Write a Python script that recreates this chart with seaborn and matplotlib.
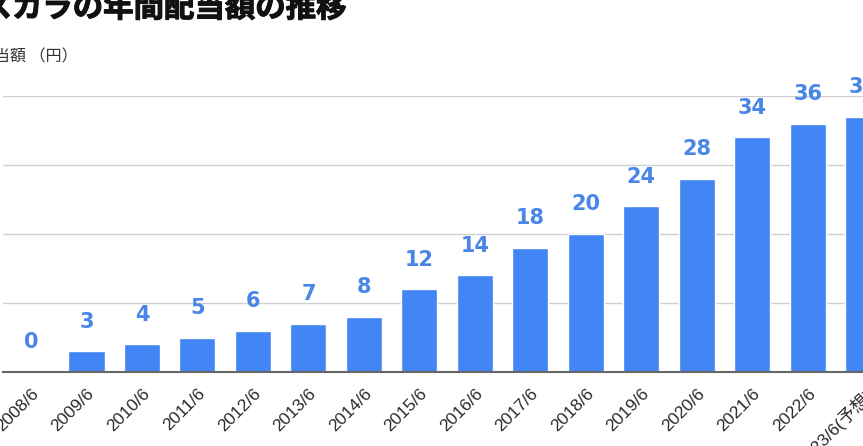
import matplotlib
matplotlib.use("Agg")
import matplotlib.pyplot as plt
import matplotlib.patheffects as pe
import seaborn as sns
import pandas as pd

periods = ["2008/6", "2009/6", "2010/6", "2011/6", "2012/6", "2013/6", "2014/6",
           "2015/6", "2016/6", "2017/6", "2018/6", "2019/6", "2020/6", "2021/6",
           "2022/6", "2023/6(予想)"]
dividends = [0, 3, 4, 5, 6, 7, 8, 12, 14, 18, 20, 24, 28, 34, 36, 37]
title_text = "スカラの年間配当額の推移"
ylabel_text = "配当額 （円）"

sns.set_theme(style="white")
plt.rcParams['font.family'] = ['Noto Sans CJK JP', 'DejaVu Sans']

W, H = 863, 446
fig = plt.figure(figsize=(W / 100, H / 100), dpi=100)
left_px, right_px = 3.25, 891.0
base_px, top_px = 372.0, 96.0
ax = fig.add_axes([left_px / W, (H - base_px) / H,
                   (right_px - left_px) / W, (base_px - top_px) / H])

df = pd.DataFrame({"period": periods, "dividend": dividends})
bar_color = "#4285F4"
sns.barplot(data=df, x="period", y="dividend", color=bar_color, saturation=1,
            width=0.65, ax=ax, zorder=3)

ax.set_xlim(-0.5, len(periods) - 0.5)
ax.set_ylim(0, 40)
ax.set_yticks([10, 20, 30, 40])
ax.set_yticklabels([])
ax.tick_params(axis='y', length=0)
ax.grid(axis='y', color='#d0d0d0', linewidth=1, zorder=0)
ax.grid(axis='x', visible=False)
for s in ["top", "right", "left"]:
    ax.spines[s].set_visible(False)
ax.spines["bottom"].set_color("#666666")
ax.spines["bottom"].set_linewidth(1.5)
ax.spines["bottom"].set_zorder(5)
ax.set_xlabel("")
ax.set_ylabel("")

ax.set_xticks(range(len(periods)))
ax.set_xticklabels(periods, rotation=45, ha='right', rotation_mode='anchor',
                   fontsize=12.5, color='#2a2a2a',
                   family=['Liberation Sans', 'Noto Sans CJK JP'])
ax.tick_params(axis='x', length=0, pad=10)

for i, v in enumerate(dividends):
    ax.annotate(str(v), (i, v), xytext=(0, 17), textcoords='offset points',
                ha='center', va='baseline', fontsize=15, fontweight='bold',
                color='#4a86e8', family='DejaVu Sans', annotation_clip=False)

fig.text(346 / W, 1 - 8 / H, title_text, ha='right', va='center',
         fontsize=21.9, fontweight='bold', color='#111111',
         family=['Noto Sans CJK JP', 'DejaVu Sans'],
         path_effects=[pe.withStroke(linewidth=0.8, foreground='#111111')])
fig.text(78 / W, 1 - 57 / H, ylabel_text, ha='right', va='center',
         fontsize=11.5, color='#333333',
         family=['Noto Sans CJK JP', 'DejaVu Sans'])

fig.savefig("out.png", dpi=100)
